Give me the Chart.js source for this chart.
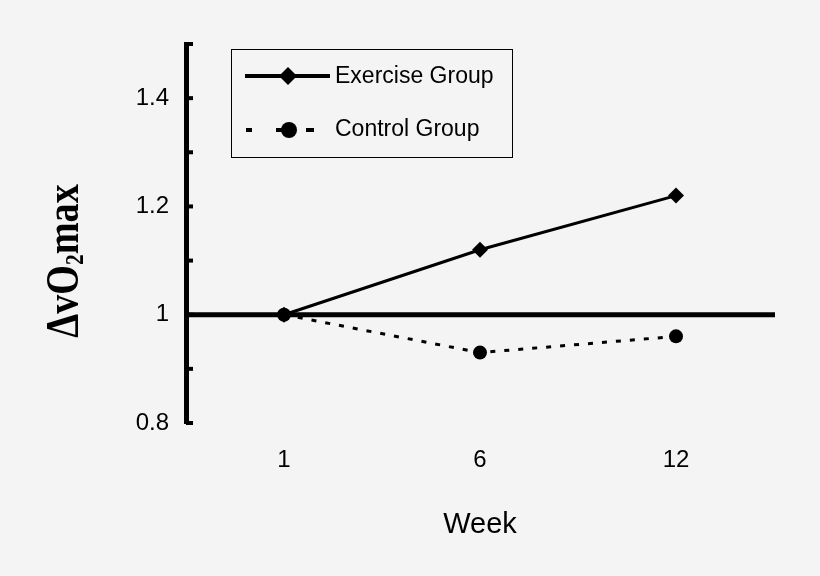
<!DOCTYPE html>
<html>
<head>
<meta charset="utf-8">
<script src="https://cdn.jsdelivr.net/npm/chart.js@4/dist/chart.umd.min.js"></script>
<style>
  html, body { margin: 0; padding: 0; background: #f4f4f4; }
  #wrap { width: 820px; height: 576px; }
</style>
</head>
<body>
<div id="wrap"><canvas id="c" width="820" height="576"></canvas></div>
<script>
const weeks = ['1', '6', '12'];
const exerciseGroup = [1, 1.12, 1.22];
const controlGroup = [1, 0.93, 0.96];
const labeledYTicks = [0.8, 1, 1.2, 1.4];
const referenceValue = 1;
const seriesNames = ['Exercise Group', 'Control Group'];

const FONT = "'Liberation Sans', Arial, sans-serif";

const decorPlugin = {
  id: 'decor',
  beforeDatasetsDraw(chart) {
    const ctx = chart.ctx;
    const y = chart.scales.y;
    const area = chart.chartArea;
    ctx.save();
    const yr = y.getPixelForValue(referenceValue);
    ctx.strokeStyle = '#000';
    ctx.lineWidth = 5;
    ctx.beginPath();
    ctx.moveTo(area.left, yr);
    ctx.lineTo(area.right + 1, yr);
    ctx.stroke();
    ctx.lineWidth = 4;
    y.ticks.forEach(t => {
      const py = y.getPixelForValue(t.value);
      ctx.beginPath();
      ctx.moveTo(area.left, py);
      ctx.lineTo(area.left + 7, py);
      ctx.stroke();
    });
    ctx.restore();
  },
  afterDraw(chart) {
    const ctx = chart.ctx;
    ctx.save();
    ctx.translate(78, 261);
    ctx.rotate(-Math.PI / 2);
    ctx.scale(0.83, 1);
    const big = "bold 46px 'Liberation Serif', 'Times New Roman', serif";
    const small = "bold 26px 'Liberation Serif', 'Times New Roman', serif";
    const parts = [['ΔvO', big, 0], ['2', small, 5], ['max', big, 0]];
    let total = 0;
    parts.forEach(p => { ctx.font = p[1]; total += ctx.measureText(p[0]).width; });
    let x = -total / 2;
    ctx.fillStyle = '#000';
    ctx.textBaseline = 'alphabetic';
    ctx.textAlign = 'left';
    parts.forEach(p => {
      ctx.font = p[1];
      ctx.fillText(p[0], x, p[2]);
      x += ctx.measureText(p[0]).width;
    });
    ctx.restore();

    ctx.save();
    ctx.strokeStyle = '#000';
    ctx.fillStyle = '#000';
    ctx.lineWidth = 1;
    ctx.strokeRect(231.5, 49.5, 281, 108);
    ctx.lineWidth = 4;
    ctx.beginPath();
    ctx.moveTo(245, 76);
    ctx.lineTo(330, 76);
    ctx.stroke();
    ctx.beginPath();
    ctx.moveTo(288 - 9, 76);
    ctx.lineTo(288, 67);
    ctx.lineTo(288 + 9, 76);
    ctx.lineTo(288, 85);
    ctx.closePath();
    ctx.fill();
    [[246, 252], [276, 282], [306, 314]].forEach(s => {
      ctx.beginPath();
      ctx.moveTo(s[0], 130);
      ctx.lineTo(s[1], 130);
      ctx.stroke();
    });
    ctx.beginPath();
    ctx.arc(289, 130, 8, 0, Math.PI * 2);
    ctx.fill();
    ctx.font = '23px ' + FONT;
    ctx.textBaseline = 'middle';
    ctx.textAlign = 'left';
    ctx.fillText(seriesNames[0], 335, 77);
    ctx.fillText(seriesNames[1], 335, 130);
    ctx.restore();
  }
};

new Chart(document.getElementById('c'), {
  type: 'line',
  data: {
    labels: weeks,
    datasets: [
      {
        label: seriesNames[1],
        data: controlGroup,
        borderColor: '#000',
        backgroundColor: '#000',
        borderWidth: 3,
        borderDash: [5, 9],
        pointStyle: 'circle',
        pointRadius: 7,
        pointBorderWidth: 0,
        tension: 0,
        order: 2
      },
      {
        label: seriesNames[0],
        data: exerciseGroup,
        borderColor: '#000',
        backgroundColor: '#000',
        borderWidth: 3,
        pointStyle: 'rectRot',
        pointRadius: 8,
        pointBorderWidth: 0,
        tension: 0,
        order: 1
      }
    ]
  },
  options: {
    responsive: false,
    animation: false,
    devicePixelRatio: 1,
    layout: { padding: { left: 0, top: 44, right: 46, bottom: 0 } },
    plugins: { legend: { display: false }, tooltip: { enabled: false } },
    scales: {
      x: {
        type: 'category',
        offset: true,
        grid: { display: false, drawTicks: false },
        border: { display: false },
        ticks: { color: '#000', font: { family: FONT, size: 24 }, padding: 23, maxRotation: 0 },
        title: { display: true, text: 'Week', color: '#000', font: { family: FONT, size: 29 }, padding: { top: 0, bottom: 34 } },
        afterFit(s) { s.height = 153; s.paddingLeft = 0; s.paddingRight = 0; }
      },
      y: {
        min: 0.8,
        max: 1.5,
        grid: { display: false, drawTicks: false },
        border: { display: true, color: '#000', width: 5 },
        ticks: {
          stepSize: 0.1,
          color: '#000',
          padding: 17,
          font: { family: FONT, size: 24 },
          callback(v) {
            return labeledYTicks.some(t => Math.abs(t - v) < 1e-6) ? String(+(+v).toFixed(1)) : '';
          }
        },
        afterFit(s) { s.width = 186; s.paddingTop = 0; s.paddingBottom = 0; }
      }
    }
  },
  plugins: [decorPlugin]
});
</script>
</body>
</html>
